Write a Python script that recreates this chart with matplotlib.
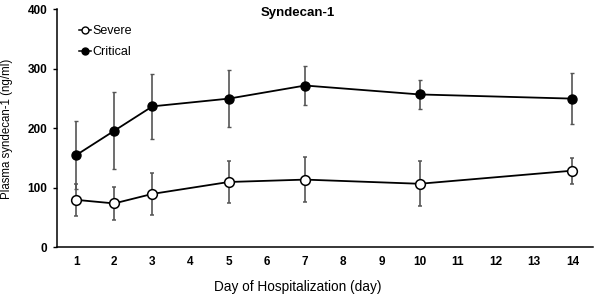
import matplotlib.pyplot as plt
from matplotlib.lines import Line2D

plt.rcParams["font.family"] = ["Liberation Sans", "DejaVu Sans"]

days = [1, 2, 3, 5, 7, 10, 14]
severe_mean = [80, 74, 90, 110, 114, 107, 129]
severe_err = [27, 28, 35, 35, 38, 38, 22]
critical_mean = [155, 196, 237, 250, 272, 257, 250]
critical_err = [57, 65, 55, 48, 33, 24, 43]
x_ticks = list(range(1, 15))
y_ticks = [0, 100, 200, 300, 400]


def main():
    fig = plt.figure(figsize=(5.96, 2.97), dpi=100)
    ax = fig.add_axes([0.0956, 0.1667, 0.9, 0.802])

    ax.errorbar(days, critical_mean, yerr=critical_err, color="black",
                ecolor="#555555", elinewidth=1.2, capsize=1.5, capthick=1,
                lw=1.3, marker="o", markersize=6.5, markerfacecolor="black",
                markeredgecolor="black", zorder=3)
    ax.errorbar(days, severe_mean, yerr=severe_err, color="black",
                ecolor="#555555", elinewidth=1.2, capsize=1.5, capthick=1,
                lw=1.3, marker="o", markersize=7, markerfacecolor="white",
                markeredgecolor="black", markeredgewidth=1.1, zorder=4)

    ax.set_xlim(0.5, 14.55)
    ax.set_ylim(0, 400)
    ax.set_xticks(x_ticks)
    ax.set_yticks(y_ticks)
    ax.tick_params(axis="x", length=0, pad=6, labelsize=8.5)
    ax.tick_params(axis="y", length=3, width=1, pad=4, labelsize=8.5)
    for lab in ax.get_xticklabels() + ax.get_yticklabels():
        lab.set_fontweight("bold")

    for side in ["top", "right"]:
        ax.spines[side].set_visible(False)
    for side in ["left", "bottom"]:
        ax.spines[side].set_linewidth(1.1)

    ax.set_ylabel("Plasma syndecan-1 (ng/ml)", fontsize=8.3, labelpad=10)
    fig.text(0.5, 0.035, "Day of Hospitalization (day)", ha="center",
             va="center", fontsize=9.8)
    fig.text(0.5, 0.955, "Syndecan-1", ha="center", va="center",
             fontsize=9.5, fontweight="bold")

    handles = [
        Line2D([], [], color="black", lw=1.1, marker="o", markersize=5,
               markerfacecolor="white", markeredgecolor="black"),
        Line2D([], [], color="black", lw=1.1, marker="o", markersize=5,
               markerfacecolor="black", markeredgecolor="black"),
    ]
    ax.legend(handles, ["Severe", "Critical"], loc="upper left",
              bbox_to_anchor=(0.02, 0.98), frameon=False, fontsize=9,
              handlelength=1.0, handletextpad=0.1, labelspacing=0.7)

    fig.savefig("out.png", dpi=100)
    plt.close(fig)


if __name__ == "__main__":
    main()
